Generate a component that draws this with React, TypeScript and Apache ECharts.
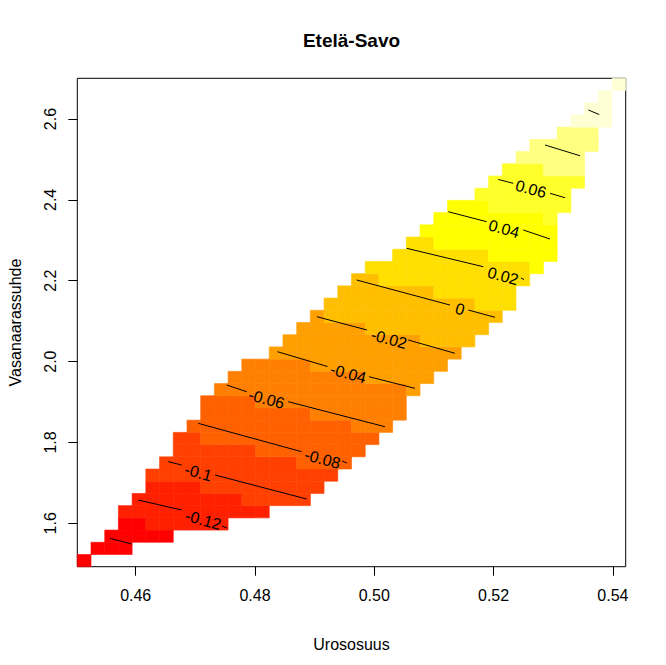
import React, { useEffect, useRef } from "react";
import * as echarts from "echarts";

// cell centres of the 40 x 40 grid
const xCenters = [
  0.45136, 0.45366, 0.45596, 0.45825, 0.46055, 0.46285, 0.46515, 0.46745, 0.46975, 0.47205,
  0.47434, 0.47664, 0.47894, 0.48124, 0.48354, 0.48584, 0.48814, 0.49043, 0.49273, 0.49503,
  0.49733, 0.49963, 0.50193, 0.50422, 0.50652, 0.50882, 0.51112, 0.51342, 0.51572, 0.51802,
  0.52031, 0.52261, 0.52491, 0.52721, 0.52951, 0.53181, 0.53411, 0.5364, 0.5387, 0.541,
];
const yCenters = [
  1.5078, 1.538, 1.5682, 1.5984, 1.6286, 1.6588, 1.689, 1.7192, 1.7494, 1.7796,
  1.8098, 1.84, 1.8702, 1.9004, 1.9306, 1.9608, 1.991, 2.0212, 2.0514, 2.0816,
  2.1118, 2.142, 2.1722, 2.2024, 2.2326, 2.2628, 2.293, 2.3232, 2.3534, 2.3836,
  2.4138, 2.444, 2.4742, 2.5044, 2.5346, 2.5648, 2.595, 2.6252, 2.6554, 2.6856,
];

// per row (bottom to top): first filled column and the colour class of each filled cell
const rowStart = [
  0, 1, 2, 3, 3, 4, 5, 5, 6, 7, 7, 8, 9, 9, 10, 11, 12, 14, 15, 16,
  17, 18, 19, 20, 21, 23, 24, 25, 26, 27, 29, 30, 31, 32, 33, 35, 36, 37, 38, 39,
];
const rowColors = [
  "0",
  "000",
  "00000",
  "00111111",
  "11111111111",
  "1111111122222",
  "1111222222222",
  "22222222222222",
  "22222222223333",
  "22222233333333",
  "223333333333333",
  "333333333333444",
  "333333334444444",
  "333344444444444",
  "444444444444445",
  "444444444455555",
  "444445555555555",
  "55555555555555",
  "55555555556666",
  "55555666666666",
  "56666666666666",
  "66666666666777",
  "6666666777777",
  "6677777777777",
  "7777777777778",
  "777777788888",
  "77888888888",
  "8888888888",
  "888888889",
  "888999999",
  "9999999",
  "9999999",
  "999aaa",
  "aaaaa",
  "aaaaa",
  "aaa",
  "bbb",
  "bb",
  "b",
  "b",
];

const heatColors = [
  "#FF0000", "#FF2000", "#FF4000", "#FF6000", "#FF8000", "#FF9F00",
  "#FFBF00", "#FFDF00", "#FFFF00", "#FFFF2A", "#FFFF80", "#FFFFD5",
];

const xTicks = [0.46, 0.48, 0.5, 0.52, 0.54];
const yTicks = [1.6, 1.8, 2.0, 2.2, 2.4, 2.6];

// contour line pieces (broken where the labels sit)
const contourSegments = [
  [[0.45569, 1.5629], [0.45933, 1.5488]],
  [[0.46044, 1.6576], [0.46771, 1.6329]],
  [[0.47447, 1.5933], [0.47531, 1.5884]],
  [[0.46547, 1.7524], [0.46771, 1.7442]],
  [[0.47329, 1.7195], [0.48867, 1.6601]],
  [[0.47049, 1.8473], [0.48783, 1.7771]],
  [[0.49459, 1.7541], [0.49542, 1.7491]],
  [[0.47526, 1.9421], [0.47861, 1.9255]],
  [[0.48558, 1.9008], [0.50179, 1.8389]],
  [[0.48377, 2.0244], [0.49216, 1.9878]],
  [[0.49911, 1.9626], [0.50682, 1.9339]],
  [[0.49039, 2.111], [0.49878, 2.0781]],
  [[0.5057, 2.0534], [0.51353, 2.0205]],
  [[0.49705, 2.2018], [0.51269, 2.1399]],
  [[0.51576, 2.1276], [0.52024, 2.1095]],
  [[0.50543, 2.2802], [0.51827, 2.2347]],
  [[0.52459, 2.2067], [0.5251, 2.203]],
  [[0.51241, 2.3707], [0.51884, 2.346]],
  [[0.52498, 2.3255], [0.52946, 2.3032]],
  [[0.52079, 2.4504], [0.5233, 2.441]],
  [[0.52946, 2.4162], [0.53197, 2.4053]],
  [[0.52862, 2.5357], [0.53448, 2.5092]],
  [[0.53588, 2.6223], [0.53772, 2.6111]],
];

const labelX = [0.47133, 0.47049, 0.49132, 0.48193, 0.49564, 0.50246, 0.51437, 0.52158, 0.52174, 0.52627];
const labelY = [1.6082, 1.7256, 1.759, 1.9074, 1.9705, 2.0558, 2.13, 2.2117, 2.3284, 2.4269];
const labelText = ["-0.12", "-0.1", "-0.08", "-0.06", "-0.04", "-0.02", "0", "0.02", "0.04", "0.06"];

const FONT = "'Liberation Sans', Arial, Helvetica, sans-serif";

export default function App() {
  const ref = useRef<HTMLDivElement>(null);

  useEffect(() => {
    if (!ref.current) return;
    const chart = echarts.init(ref.current, undefined, { renderer: "svg" });

    const dx = xCenters[1] - xCenters[0];
    const dy = yCenters[1] - yCenters[0];

    const cells: number[][] = [];
    rowColors.forEach((s, r) => {
      for (let i = 0; i < s.length; i++) {
        cells.push([xCenters[rowStart[r] + i], yCenters[r], parseInt(s[i], 16)]);
      }
    });

    const lineSeries = contourSegments.map((seg) => ({
      type: "line",
      data: seg,
      showSymbol: false,
      symbol: "none",
      silent: true,
      z: 3,
      lineStyle: { color: "#000", width: 1 },
    }));

    const option: any = {
      animation: false,
      backgroundColor: "#fff",
      grid: {
        left: 77.3,
        top: 78.3,
        width: 548.4,
        height: 488.4,
        show: true,
        borderColor: "#000",
        borderWidth: 1,
        backgroundColor: "transparent",
        containLabel: false,
        outerBoundsMode: "none",
      },
      xAxis: {
        type: "value",
        min: 0.45021,
        max: 0.54215,
        axisLine: { show: false },
        splitLine: { show: false },
        axisTick: {
          show: true,
          customValues: xTicks,
          length: 9,
          lineStyle: { color: "#000", width: 1 },
        },
        axisLabel: {
          customValues: xTicks,
          formatter: (v: number) => v.toFixed(2),
          fontSize: 16,
          fontFamily: FONT,
          color: "#000",
          margin: 21,
        },
      },
      yAxis: {
        type: "value",
        min: 1.4927,
        max: 2.7007,
        axisLine: { show: false },
        splitLine: { show: false },
        axisTick: {
          show: true,
          customValues: yTicks,
          length: 9,
          lineStyle: { color: "#000", width: 1 },
        },
        axisLabel: {
          customValues: yTicks,
          formatter: (v: number) => v.toFixed(1),
          fontSize: 16,
          fontFamily: FONT,
          color: "#000",
          rotate: 90,
          margin: 19,
        },
      },
      graphic: [
        {
          type: "text",
          x: 351.5,
          y: 40,
          style: {
            text: "Etelä-Savo",
            font: `bold 19px ${FONT}`,
            fill: "#000",
            align: "center",
            verticalAlign: "middle",
          },
        },
        {
          type: "text",
          x: 351.5,
          y: 644.5,
          style: {
            text: "Urososuus",
            font: `16px ${FONT}`,
            fill: "#000",
            align: "center",
            verticalAlign: "middle",
          },
        },
        {
          type: "text",
          x: 15,
          y: 322.5,
          rotation: Math.PI / 2,
          style: {
            text: "Vasanaarassuhde",
            font: `16px ${FONT}`,
            fill: "#000",
            align: "center",
            verticalAlign: "middle",
          },
        },
      ],
      series: [
        {
          type: "custom",
          data: cells,
          encode: { x: 0, y: 1 },
          silent: true,
          z: 1,
          renderItem: (params: any, api: any) => {
            const x = api.value(0);
            const y = api.value(1);
            const k = api.value(2);
            const p0 = api.coord([x - dx / 2, y + dy / 2]);
            const p1 = api.coord([x + dx / 2, y - dy / 2]);
            const c = heatColors[k];
            return {
              type: "rect",
              shape: { x: p0[0], y: p0[1], width: p1[0] - p0[0], height: p1[1] - p0[1] },
              style: { fill: c, stroke: c, lineWidth: 0.6 },
            };
          },
        },
        ...lineSeries,
        {
          type: "custom",
          data: labelX.map((x, i) => [x, labelY[i]]),
          encode: { x: 0, y: 1 },
          silent: true,
          z: 4,
          renderItem: (params: any, api: any) => {
            const p = api.coord([api.value(0), api.value(1)]);
            return {
              type: "text",
              x: p[0],
              y: p[1],
              rotation: -0.27,
              style: {
                text: labelText[params.dataIndex],
                font: `16px ${FONT}`,
                fill: "#000",
                align: "center",
                verticalAlign: "middle",
              },
            };
          },
        },
      ],
    };

    chart.setOption(option);
    return () => chart.dispose();
  }, []);

  return (
    <div
      ref={ref}
      style={{ position: "absolute", left: 0, top: 0, width: 666, height: 665, background: "#fff" }}
    />
  );
}
